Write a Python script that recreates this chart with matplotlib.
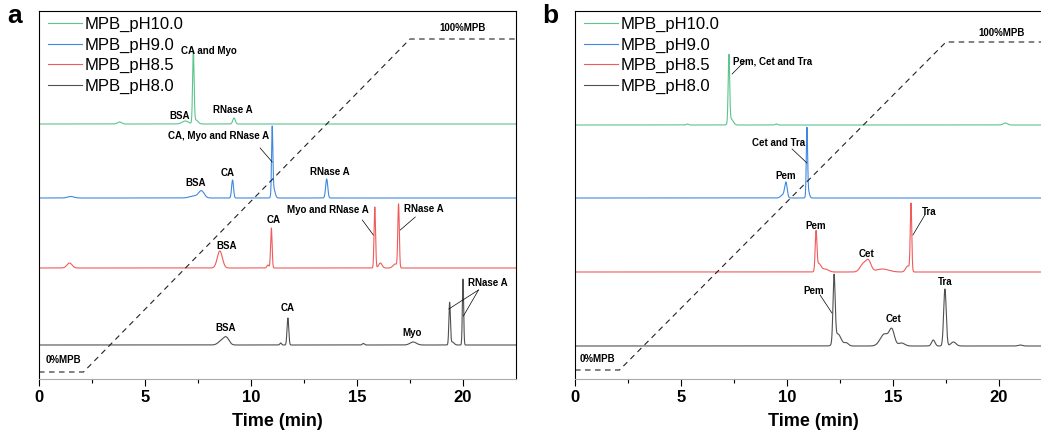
import matplotlib.pyplot as plt
import numpy as np

plt.rcParams['font.family'] = ['Liberation Sans', 'DejaVu Sans']

# series names and colours
labels = ['MPB_pH10.0', 'MPB_pH9.0', 'MPB_pH8.5', 'MPB_pH8.0']
colors = ['#5cc48c', '#3f88e0', '#f05a5a', '#505050']

# gradient program (time in min, %MPB)
grad_time = [0, 2.1, 17.5, 22.5]
grad_pct = [0, 0, 100, 100]

# panel a: baselines (offset units) and peaks (retention time, height, width)
base_a = [255, 181, 111, 34]
peaks_a = [
    [(3.8, 2, 0.1), (6.9, 3, 0.15), (7.28, 71, 0.035), (7.4, 4, 0.1), (9.2, 6, 0.06)],
    [(1.5, 1.5, 0.15), (7.3, 2, 0.2), (7.66, 7, 0.13), (9.13, 18, 0.045),
     (11.0, 65, 0.03), (11.06, 10, 0.07), (13.57, 19, 0.05)],
    [(1.44, 5, 0.12), (8.53, 17, 0.12), (10.8, 3, 0.05), (10.96, 40, 0.035),
     (15.84, 61, 0.035), (16.1, 5, 0.08), (16.8, 4, 0.1), (16.96, 63, 0.035)],
    [(8.6, 4, 0.15), (8.84, 7, 0.13), (11.4, 2, 0.04), (11.74, 27, 0.04), (15.3, 1.5, 0.05),
     (17.65, 3, 0.15), (19.37, 42, 0.035), (19.5, 3, 0.08), (20.0, 66, 0.03)],
]

# panel b
base_b = [254, 181, 107, 33]
peaks_b = [
    [(5.3, 1, 0.05), (7.26, 67, 0.035), (7.36, 6, 0.1), (9.5, 1, 0.05), (20.3, 2, 0.1)],
    [(9.8, 3, 0.1), (9.95, 15, 0.06), (10.94, 65, 0.03), (10.99, 8, 0.06)],
    [(11.37, 38, 0.04), (11.5, 8, 0.1), (11.8, 3, 0.15), (13.6, 8, 0.15), (13.85, 10, 0.12),
     (14.5, 3, 0.3), (15.7, 6, 0.1), (15.85, 67, 0.035)],
    [(12.22, 66, 0.05), (12.4, 12, 0.15), (12.8, 3, 0.1), (14.6, 12, 0.2), (14.95, 15, 0.12),
     (15.4, 3, 0.15), (16.9, 6, 0.08), (17.45, 57, 0.06), (17.85, 4, 0.12), (21.0, 1, 0.1)],
]

# peak labels: (text, x, y) and leader lines (x1, y1, x2, y2)
notes_a = [('CA and Myo', 8.03, 328), ('BSA', 6.61, 263), ('RNase A', 9.16, 269),
           ('CA, Myo and RNase A', 8.45, 243), ('BSA', 7.41, 196), ('CA', 8.92, 206),
           ('RNase A', 13.74, 207), ('CA', 11.05, 159), ('BSA', 8.83, 133),
           ('Myo and RNase A', 13.64, 169), ('RNase A', 18.13, 170), ('BSA', 8.78, 51),
           ('CA', 11.71, 71), ('Myo', 17.61, 46), ('RNase A', 21.15, 96),
           ('100%MPB', 19.97, 351), ('0%MPB', 1.13, 19)]
lines_a = [(10.43, 231, 11.0, 217), (15.25, 159, 15.77, 144), (17.75, 162, 17.04, 149),
           (20.73, 89, 19.33, 70), (20.73, 89, 20.02, 63)]
notes_b = [('Pem, Cet and Tra', 9.34, 317), ('Cet and Tra', 9.58, 236), ('Pem', 9.95, 203),
           ('Pem', 11.37, 153), ('Cet', 13.73, 125), ('Tra', 16.7, 167),
           ('Pem', 11.27, 88), ('Cet', 15.0, 60), ('Tra', 17.45, 97),
           ('100%MPB', 20.14, 346), ('0%MPB', 1.04, 20)]
lines_b = [(8.02, 318, 7.41, 305), (10.24, 230, 10.94, 216), (16.5, 164, 15.94, 144),
           (11.56, 84, 12.12, 66)]

t = np.linspace(0, 22.5, 6000)


def trace(peaks):
    y = np.zeros_like(t)
    for rt, h, w in peaks:
        y += h * np.exp(-0.5 * ((t - rt) / w) ** 2)
    return y


def draw(ax, bases, peaks, notes, lines, g0, g100):
    for i in range(4):
        ax.plot(t, bases[i] + trace(peaks[i]), color=colors[i], lw=0.8, label=labels[i])
    gy = [g0 + p * (g100 - g0) / 100 for p in grad_pct]
    ax.plot(grad_time, gy, color='#222222', lw=0.8, dashes=(5, 4))
    for txt, x, y in notes:
        ax.text(x, y, txt, fontsize=7, fontweight='bold', ha='center', va='center')
    for x1, y1, x2, y2 in lines:
        ax.plot([x1, x2], [y1, y2], color='black', lw=0.5)
    ax.set_xlim(0, 22.5)
    ax.set_ylim(0, 368)
    ax.set_yticks([])
    ax.set_xticks([0, 5, 10, 15, 20])
    ax.set_xticks(np.arange(2.5, 22.5, 5), minor=True)
    ax.tick_params(axis='x', which='major', length=5, width=0.8, direction='out',
                   labelsize=12, pad=3)
    ax.tick_params(axis='x', which='minor', length=3, width=0.8, direction='out')
    for lab in ax.get_xticklabels():
        lab.set_fontweight('bold')
    ax.spines['bottom'].set_color('#aaaaaa')
    ax.set_xlabel('Time (min)', fontsize=13, fontweight='bold', labelpad=6)
    ax.legend(loc='upper left', bbox_to_anchor=(-0.012, 1.025), frameon=False,
              fontsize=12, handlelength=2.0, handletextpad=0.2, labelspacing=0.33)


fig = plt.figure(figsize=(10.41, 4.4), dpi=100)
ax_a = fig.add_axes([39 / 1041, 1 - 379 / 440, 477 / 1041, 368 / 440])
ax_b = fig.add_axes([575 / 1041, 1 - 379 / 440, 477 / 1041, 368 / 440])

draw(ax_a, base_a, peaks_a, notes_a, lines_a, 7, 340)
draw(ax_b, base_b, peaks_b, notes_b, lines_b, 9, 337)

fig.text(15 / 1041, 1 - 16 / 440, 'a', fontsize=19, fontweight='bold', ha='center', va='center')
fig.text(550 / 1041, 1 - 16 / 440, 'b', fontsize=19, fontweight='bold', ha='center', va='center')

fig.savefig('out.png', dpi=100)
